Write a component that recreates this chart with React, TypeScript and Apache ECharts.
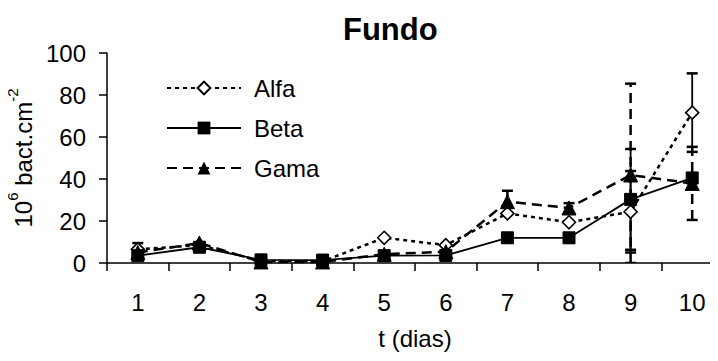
import React, { useEffect, useRef } from "react";
import * as echarts from "echarts";

const categories = ["1", "2", "3", "4", "5", "6", "7", "8", "9", "10"];
const alfa = [6.5, 8.5, 1, 0.8, 12, 8.5, 23.6, 19.4, 24.4, 71.6];
const beta = [3.5, 7.5, 1.5, 1.4, 3.5, 3.6, 12, 12, 30.3, 40.5];
const gama = [5, 9.5, 0.5, 0.5, 4.2, 5.4, 29.2, 26.2, 41.9, 37.9];
const alfaErr = [3, 0, 0, 0, 0, 0, 0, 0, 19.4, 18.7];
const betaErr = [0, 0, 0, 0, 0, 0, 0, 0, 24, 0];
const gamaErr = [0, 0, 0, 0, 0, 0, 5.2, 2.3, 43.5, 17.4];
const yTicks = { min: 0, max: 100, interval: 20 };

const FONT = "'Liberation Sans', Arial, sans-serif";

function errorBars(name: string, values: number[], errs: number[], dashed: boolean) {
  return {
    type: "custom",
    name: name + " err",
    z: 1,
    silent: true,
    clip: true,
    data: values.map((v, i) => [i, Math.max(0, v - errs[i]), v + errs[i], errs[i]]),
    encode: { x: 0, y: [1, 2] },
    renderItem: (params: any, api: any) => {
      if (api.value(3) === 0) return null;
      const x = api.value(0);
      const lo = api.coord([x, api.value(1)]);
      const hi = api.coord([x, api.value(2)]);
      const hw = 5.5;
      const barStyle: any = { stroke: "#000", lineWidth: dashed ? 2.5 : 1.8, fill: null };
      if (dashed) barStyle.lineDash = [10, 6];
      const capStyle = { stroke: "#000", lineWidth: 2.5, fill: null };
      return {
        type: "group",
        children: [
          { type: "line", shape: { x1: lo[0], y1: lo[1], x2: hi[0], y2: hi[1] }, style: barStyle },
          { type: "line", shape: { x1: lo[0] - hw, y1: lo[1], x2: lo[0] + hw, y2: lo[1] }, style: capStyle },
          { type: "line", shape: { x1: hi[0] - hw, y1: hi[1], x2: hi[0] + hw, y2: hi[1] }, style: capStyle },
        ],
      };
    },
  };
}

export default function App() {
  const ref = useRef<HTMLDivElement>(null);
  useEffect(() => {
    if (!ref.current) return;
    const chart = echarts.init(ref.current, null, { renderer: "svg" });
    chart.setOption({
      animation: false,
      backgroundColor: "#fff",
      textStyle: { fontFamily: FONT, color: "#000" },
      title: {
        text: "Fundo",
        left: 343,
        top: 14,
        padding: 0,
        textStyle: { fontFamily: FONT, fontSize: 31, fontWeight: "bold", color: "#000" },
      },
      legend: {
        data: ["Alfa", "Beta", "Gama"],
        orient: "vertical",
        left: 166,
        top: 76,
        padding: 0,
        itemWidth: 74,
        itemHeight: 16,
        itemGap: 16,
        textStyle: { fontFamily: FONT, fontSize: 24, color: "#000", padding: [0, 0, 0, 8] },
      },
      grid: { left: 107, right: -5, top: 53, bottom: 98, containLabel: false, outerBoundsMode: "none" },
      xAxis: {
        type: "category",
        data: categories,
        boundaryGap: true,
        name: "t (dias)",
        nameLocation: "middle",
        nameGap: 63,
        nameTextStyle: { fontFamily: FONT, fontSize: 24, color: "#000" },
        axisLine: { show: true, lineStyle: { color: "#000", width: 1.5 } },
        axisTick: { show: true, length: 8, alignWithLabel: false, interval: 0, lineStyle: { color: "#000", width: 1.5 } },
        axisLabel: { fontFamily: FONT, fontSize: 24, color: "#000", margin: 27, interval: 0 },
        splitLine: { show: false },
      },
      yAxis: {
        type: "value",
        min: yTicks.min,
        max: yTicks.max,
        interval: yTicks.interval,
        name: "{a|10}{s|6}{a| bact.cm}{s|-2}",
        nameLocation: "middle",
        nameRotate: 90,
        nameGap: 65,
        nameTextStyle: {
          fontFamily: FONT,
          color: "#000",
          rich: {
            a: { fontFamily: FONT, fontSize: 24, color: "#000", lineHeight: 30, verticalAlign: "bottom" },
            s: { fontFamily: FONT, fontSize: 15, color: "#000", lineHeight: 30, verticalAlign: "top" },
          },
        },
        axisLine: { show: true, lineStyle: { color: "#000", width: 1.5 } },
        axisTick: { show: true, length: 8, lineStyle: { color: "#000", width: 1.5 } },
        axisLabel: { fontFamily: FONT, fontSize: 24, color: "#000", margin: 21 },
        splitLine: { show: false },
      },
      series: [
        errorBars("Alfa", alfa, alfaErr, false),
        errorBars("Beta", beta, betaErr, false),
        errorBars("Gama", gama, gamaErr, true),
        {
          name: "Alfa",
          type: "line",
          z: 3,
          data: alfa,
          symbol: "diamond",
          symbolSize: 13,
          showAllSymbol: true,
          lineStyle: { color: "#000", width: 2.5, type: [4, 4] },
          itemStyle: { color: "#fff", borderColor: "#000", borderWidth: 1.6 },
        },
        {
          name: "Beta",
          type: "line",
          z: 3,
          data: beta,
          symbol: "rect",
          symbolSize: 12,
          showAllSymbol: true,
          lineStyle: { color: "#000", width: 1.8, type: "solid" },
          itemStyle: { color: "#000", borderColor: "#000" },
        },
        {
          name: "Gama",
          type: "line",
          z: 3,
          data: gama,
          symbol: "triangle",
          symbolSize: 14,
          showAllSymbol: true,
          lineStyle: { color: "#000", width: 2.5, type: [10, 6] },
          itemStyle: { color: "#000", borderColor: "#000" },
        },
      ],
    });
    return () => chart.dispose();
  }, []);
  return <div ref={ref} style={{ width: 718, height: 361, margin: -8 }} />;
}
